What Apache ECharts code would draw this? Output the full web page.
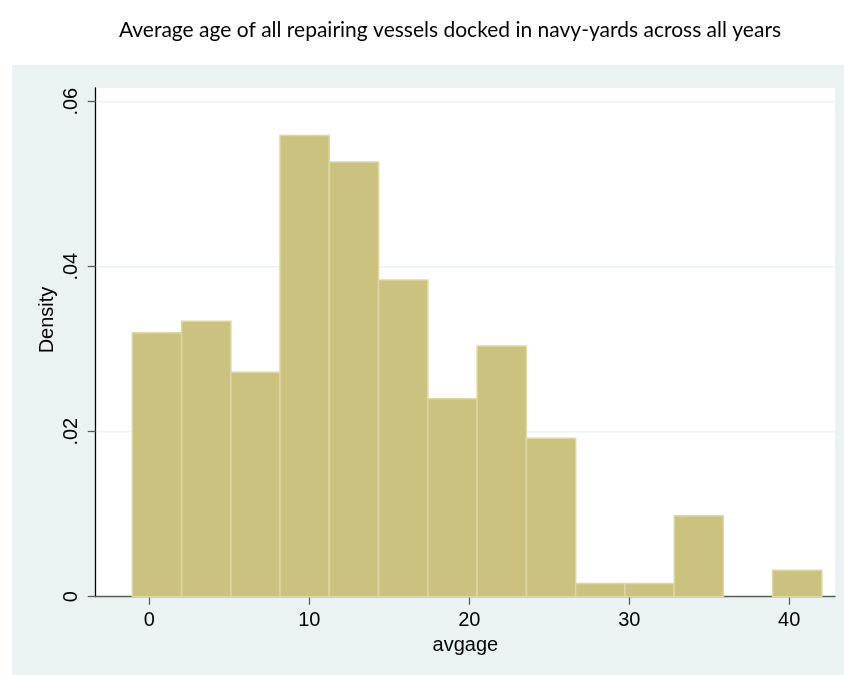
<!DOCTYPE html>
<html>
<head>
<meta charset="utf-8">
<script src="https://cdn.jsdelivr.net/npm/echarts@6/dist/echarts.min.js"></script>
<style>
  html, body { margin: 0; padding: 0; background: #ffffff; }
  #chart { width: 844px; height: 675px; }
</style>
</head>
<body>
<div id="chart"></div>
<script>
// Histogram of average vessel age (years): bin edges and density per bin
const binEdges = [-1.06, 2.02, 5.10, 8.17, 11.25, 14.33, 17.41, 20.49, 23.57, 26.65, 29.73, 32.81, 35.88, 38.96, 42.04];
const densities = [0.0320, 0.0334, 0.0272, 0.0559, 0.0527, 0.0384, 0.0240, 0.0304, 0.0192, 0.0016, 0.0016, 0.0098, 0, 0.0032];
const xTicks = [0, 10, 20, 30, 40];
const yTicks = [0, 0.02, 0.04, 0.06];
const yGridValues = [0.02, 0.04, 0.06];

const titleText = 'Average age of all repairing vessels docked in navy-yards across all years';
const xTitle = 'avgage';
const yTitle = 'Density';

const bins = densities.map((d, i) => [binEdges[i], binEdges[i + 1], d]);
const gridRows = yGridValues.map(v => [v]);

const X_MIN = -3.35, X_MAX = 42.86;

const chart = echarts.init(document.getElementById('chart'), null, { renderer: 'canvas' });

const fmtY = v => (v === 0 ? '0' : ('' + +v.toFixed(2)).replace(/^0\./, '.'));

chart.setOption({
  animation: false,
  backgroundColor: '#ffffff',
  graphic: [
    {
      type: 'rect', z: -10, silent: true,
      shape: { x: 12, y: 65, width: 832, height: 610 },
      style: { fill: '#eaf2f3' }
    },
    {
      type: 'text', z: 10,
      x: 450, y: 30,
      style: {
        text: titleText,
        fontFamily: 'Lato', fontSize: 21, fill: '#000000',
        textAlign: 'center', textVerticalAlign: 'middle'
      }
    },
    {
      type: 'text', z: 10,
      x: 47, y: 320, rotation: Math.PI / 2,
      style: {
        text: yTitle,
        fontFamily: 'Liberation Sans', fontSize: 20, fill: '#000000',
        textAlign: 'center', textVerticalAlign: 'middle'
      }
    }
  ],
  grid: {
    left: 95.7, right: 9, top: 88, bottom: 78.3,
    show: true, backgroundColor: '#ffffff', borderWidth: 0,
    containLabel: false
  },
  xAxis: {
    type: 'value',
    min: X_MIN, max: X_MAX,
    name: xTitle, nameLocation: 'middle', nameGap: 35,
    nameTextStyle: { fontFamily: 'Liberation Sans', fontSize: 20, color: '#000' },
    axisLine: { show: true, onZero: false, lineStyle: { color: '#5a5a5a', width: 1.3 } },
    axisTick: { show: true, length: 8, customValues: xTicks, lineStyle: { color: '#5a5a5a', width: 1.3 } },
    axisLabel: { customValues: xTicks, margin: 14, fontFamily: 'Liberation Sans', fontSize: 20, color: '#000' },
    splitLine: { show: false }
  },
  yAxis: {
    type: 'value',
    min: 0, max: 0.06166,
    axisLine: { show: true, onZero: false, lineStyle: { color: '#000000', width: 1.3 } },
    axisTick: { show: true, length: 8, customValues: yTicks, lineStyle: { color: '#5a5a5a', width: 1.3 } },
    axisLabel: {
      customValues: yTicks, rotate: 90, margin: 14,
      fontFamily: 'Liberation Sans', fontSize: 20, color: '#000',
      formatter: fmtY
    },
    splitLine: { show: false }
  },
  series: [
    {
      // horizontal reference lines at the labelled densities, under the bars
      type: 'custom', z: 1, silent: true,
      data: gridRows,
      encode: { y: 0 },
      renderItem: function (params, api) {
        const p0 = api.coord([X_MIN, api.value(0)]);
        const p1 = api.coord([X_MAX, api.value(0)]);
        return {
          type: 'line',
          shape: { x1: p0[0] + 1, y1: p0[1], x2: p1[0], y2: p1[1] },
          style: { stroke: '#eaf2f3', lineWidth: 1.6 }
        };
      }
    },
    {
      type: 'custom', z: 2,
      data: bins,
      encode: { x: [0, 1], y: 2 },
      renderItem: function (params, api) {
        const h = api.value(2);
        if (!h) return null;
        const p0 = api.coord([api.value(0), h]);
        const p1 = api.coord([api.value(1), 0]);
        return {
          type: 'rect',
          shape: { x: p0[0], y: p0[1], width: p1[0] - p0[0], height: p1[1] - p0[1] },
          style: { fill: '#cac27e', stroke: '#ddd7a3', lineWidth: 1.5 }
        };
      }
    }
  ]
});
</script>
</body>
</html>
